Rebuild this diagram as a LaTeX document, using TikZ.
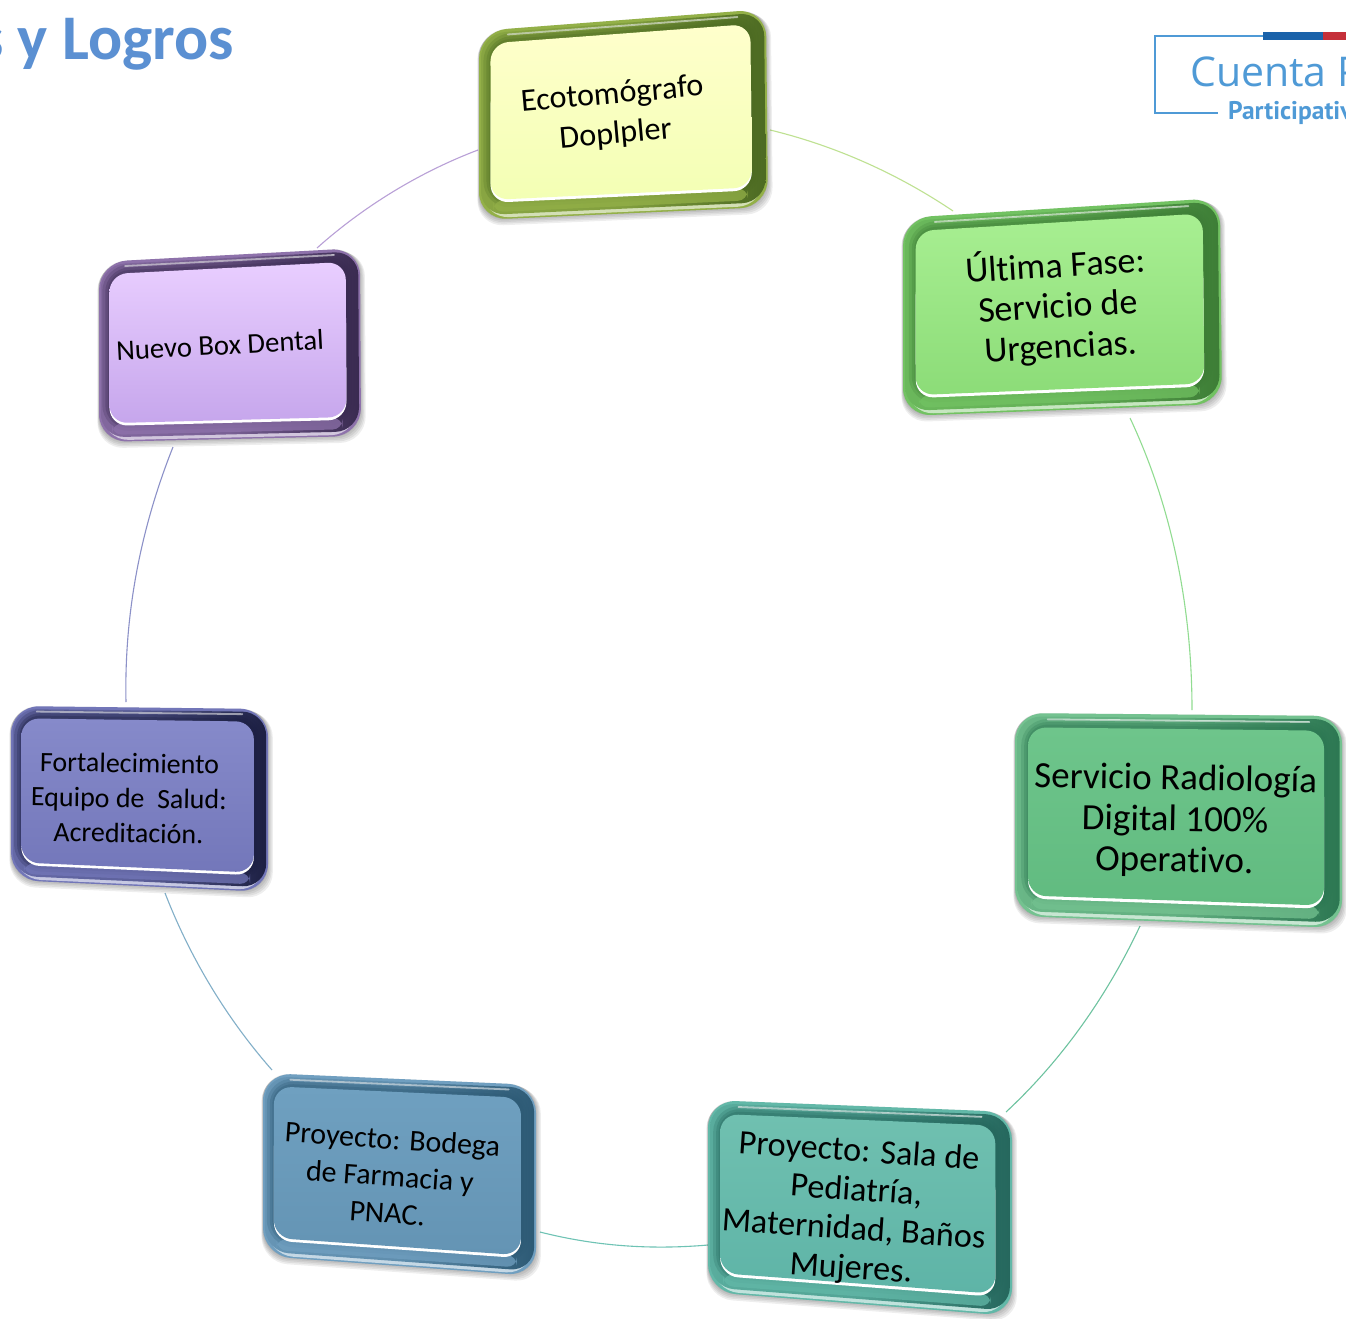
\documentclass[tikz,border=0pt]{standalone}
\usepackage{fontspec}
\setmainfont{Carlito}[Ligatures=NoCommon]
\newfontfamily\logofont{Open Sans}
\newfontfamily\logobold{PT Sans}
\usetikzlibrary{calc}
\newcommand{\qpt}[2]{($($(qa)!#1!(qb)$)!#2!($(qd)!#1!(qc)$)$)}
\newcommand{\qpath}[4]{\qpt{#1}{#2} -- \qpt{#3}{#2} -- \qpt{#3}{#4} -- \qpt{#1}{#4} -- cycle}
\newcommand{\bevelbox}[9]{%
  \definecolor{rl}{HTML}{#6}\definecolor{rd}{HTML}{#7}\definecolor{ft}{HTML}{#8}\definecolor{fb}{HTML}{#9}%
  \coordinate (qa) at (#2); \coordinate (qb) at (#3);
  \coordinate (qc) at (#4); \coordinate (qd) at (#5);
  \coordinate (#1-c) at ($(qa)!.5!(qc)$);
  % soft shadow
  \foreach \g in {0,2,4,6,8}{
    \fill[black,opacity=.065,rounded corners=26pt,shift={(2.5pt,4pt)}]
      ($(qa)+(-\g*.2,\g*.3)$) -- ($(qb)+(\g*.6,\g*.3)$) -- ($(qc)+(\g*.6,\g*.8)$) -- ($(qd)+(-\g*.2,\g*.8)$) -- cycle;
  }
  % outer rim
  \fill[rl,rounded corners=28pt] (qa) -- (qb) -- (qc) -- (qd) -- cycle;
  % pale lower lip
  \fill[white,rounded corners=26pt,opacity=.6] \qpath{.015}{.04}{.985}{.992};
  % bevel band, darkening to the right
  \shade[left color=rl!85!rd,right color=rd,middle color=rl!75!rd,rounded corners=24pt] \qpath{.007}{.016}{.993}{.975};
  % highlight along the top
  \draw[white,opacity=.7,line width=1.8pt,line cap=round] \qpt{.1}{.03} -- \qpt{.9}{.03};
  % dark halo round the face
  \begin{scope}[rounded corners=18pt]
    \draw[rd,opacity=.22,line width=17pt] \qpath{.045}{.07}{.945}{.895};
    \draw[rd,opacity=.28,line width=11pt] \qpath{.045}{.07}{.945}{.895};
    \draw[rd,opacity=.30,line width=6pt] \qpath{.045}{.07}{.945}{.895};
    % lighter lower band
    \fill[rl,opacity=.75,rounded corners=10pt] \qpath{.05}{.9}{.93}{.962};
    % white line under the face
    \fill[white] \qpath{.04}{.3}{.945}{.912};
    % face
    \shade[top color=ft,bottom color=fb] \qpath{.04}{.07}{.945}{.897};
  \end{scope}
}
\definecolor{titleblue}{HTML}{5B90D2}
\definecolor{logoblue}{HTML}{4F9AD6}
\definecolor{barblue}{HTML}{1A62AA}
\definecolor{barred}{HTML}{C5303A}
\definecolor{l1}{RGB}{190,225,145}
\definecolor{l2}{RGB}{145,220,145}
\definecolor{l3}{RGB}{110,195,160}
\definecolor{l4}{RGB}{110,195,180}
\definecolor{l5}{RGB}{130,175,200}
\definecolor{l6}{RGB}{140,145,200}
\definecolor{l7}{RGB}{185,160,215}
\tikzset{
  label/.style={align=center,text=black,inner sep=0pt},
  link/.style={line width=1.1pt},
  titletext/.style={anchor=base west,inner sep=0pt,text=titleblue},
  logotext/.style={anchor=base west,inner sep=0pt,text=logoblue},
}
\begin{document}
\begin{tikzpicture}[x=1pt,y=-1pt]
\useasboundingbox (0,0) rectangle (1346,1319);
\clip (0,0) rectangle (1346,1319);
\fill[white] (0,0) rectangle (1346,1319);

% title
\node[titletext,font=\bfseries\fontsize{63.6}{70}\selectfont] (title) at (-22,60) {s y Logros};

% logo
\coordinate (la) at (1263,36); \coordinate (lb) at (1155,36);
\coordinate (lc) at (1155,113); \coordinate (ld) at (1218,113);
\draw[logoblue,line width=2.6pt] (la) -- (lb) -- (lc) -- (ld);
\fill[barblue] (1263,32.5) rectangle (1323,40.5);
\fill[barred] (1323,32.5) rectangle (1346,40.5);
\node[logotext,font=\logofont\fontsize{41}{48}\selectfont] (logo1) at (1190,87) {Cuenta P};
\node[logotext,font=\logobold\bfseries\fontsize{25.5}{28}\selectfont] (logo2) at (1228,120) {Participativ};

% connector ends
\coordinate (e1) at (770,130);  \coordinate (u1) at (953,211);
\coordinate (u2) at (1130,418); \coordinate (r1) at (1192,710);
\coordinate (r2) at (1140,926); \coordinate (s1) at (1006,1112);
\coordinate (s2) at (708,1245); \coordinate (b1) at (540,1232);
\coordinate (b2) at (272,1070); \coordinate (f1) at (165,893);
\coordinate (f2) at (126,702);  \coordinate (d1) at (173,447);
\coordinate (d2) at (317,248);  \coordinate (e2) at (478,150);

\draw[link,l1] (e1) .. controls (836,146) and (898,174) .. (u1);
\draw[link,l2] (u2) .. controls (1171,505) and (1192,605) .. (r1);
\draw[link,l3] (r2) .. controls (1107,996) and (1062,1060) .. (s1);
\draw[link,l4] (s2) .. controls (650,1250) and (595,1246) .. (b1);
\draw[link,l5] (b2) .. controls (228,1020) and (191,960) .. (f1);
\draw[link,l6] (f2) .. controls (124,610) and (142,525) .. (d1);
\draw[link,l7] (d2) .. controls (364,206) and (420,172) .. (e2);

% boxes
\bevelbox{ecobox}{479,31}{766,9}{768,207}{479,220}{93B048}{4C6A22}{FFFFCC}{F3FFB4}
\bevelbox{urgbox}{903,218}{1220,198}{1222,404}{903,416}{72C262}{3D7D36}{A8EF92}{8CDC78}
\bevelbox{radbox}{1015,713}{1342,716}{1342,928}{1015,916}{74C290}{2C7752}{6EC58B}{61BB80}
\bevelbox{salabox}{708,1100}{1012,1112}{1012,1316}{708,1292}{62B8A8}{25675D}{70C0B0}{5EB4A7}
\bevelbox{bodbox}{263,1073}{536,1085}{536,1276}{263,1256}{709FC0}{2D5A75}{6FA0C0}{6494B4}
\bevelbox{fortbox}{11,706}{268,709}{268,892}{11,880}{7276B8}{1C1F42}{868ACA}{7377BA}
\bevelbox{dentbox}{99,262}{360,248}{361,436}{99,442}{8E72AB}{392A50}{E9CEFF}{C6A6EC}

% labels
\node[label,rotate=5,font=\fontsize{32.2}{40}\selectfont] (eco) at (614,115) {Ecotomógrafo\\Doplpler};
\node[label,rotate=3.5,font=\fontsize{36}{40.5}\selectfont] (urg) at (1058,306) {Última Fase:\\Servicio de\\Urgencias.};
\node[label,rotate=-1,font=\fontsize{37}{41}\selectfont] (rad) at (1175,821) {Servicio Radiología\\Digital 100\%\\Operativo.};
\node[label,rotate=-4,font=\fontsize{34.2}{39}\selectfont] (sala) at (855,1211) {Proyecto: Sala de\\Pediatría,\\Maternidad, Baños\\Mujeres.};
\node[label,rotate=-4,font=\fontsize{30}{37}\selectfont] (bod) at (390,1176) {Proyecto: Bodega\\de Farmacia y\\PNAC.};
\node[label,rotate=-1,font=\fontsize{28}{35}\selectfont] (fort) at (129,798) {Fortalecimiento\\Equipo de~ Salud:\\Acreditación.};
\node[label,rotate=3,font=\fontsize{28.7}{36}\selectfont] (dent) at (220,345) {Nuevo Box Dental};
\end{tikzpicture}
\end{document}
